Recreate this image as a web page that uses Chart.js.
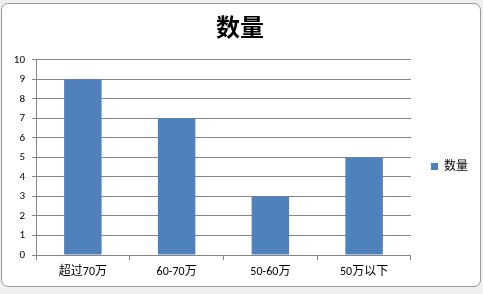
<!DOCTYPE html>
<html>
<head>
<meta charset="utf-8">
<script src="https://cdn.jsdelivr.net/npm/chart.js@4"></script>
<style>
  html, body { margin: 0; padding: 0; }
  body { width: 483px; height: 294px; background: #f0f0f0; position: relative; overflow: hidden; }
  /* 图表外框 */
  #frame {
    position: absolute; left: 1px; top: 3px; width: 478px; height: 282px;
    background: #fff; border: 1px solid #9a9a9a; border-radius: 7px;
  }
  #frame canvas { position: absolute; left: 0; top: 0; }
</style>
</head>
<body>
<div id="frame"><canvas id="chart" width="478" height="282"></canvas></div>
<script>
// 数据
const categories = ['超过70万', '60-70万', '50-60万', '50万以下'];
const counts = [9, 7, 3, 5];
const seriesName = '数量';
const yTicks = [0, 1, 2, 3, 4, 5, 6, 7, 8, 9, 10];

const FONT = 'Calibri, Carlito, "Liberation Sans", "Noto Sans CJK SC", sans-serif';
const GRID = '#868686';

const ctx = document.getElementById('chart').getContext('2d');
new Chart(ctx, {
  type: 'bar',
  data: {
    labels: categories,
    datasets: [{
      label: seriesName,
      data: counts,
      backgroundColor: '#4f81bd',
      borderWidth: 0,
      barPercentage: 1,
      categoryPercentage: 0.4
    }]
  },
  options: {
    responsive: false,
    animation: false,
    layout: { padding: { left: 0, right: 2, top: 0, bottom: 0 } },
    plugins: {
      title: {
        display: true,
        text: seriesName,
        color: '#000',
        font: { family: '"Noto Sans CJK SC", sans-serif', size: 24, weight: 'bold' },
        padding: { top: 8, bottom: 19 }
      },
      legend: {
        position: 'right',
        fullSize: false,
        labels: {
          color: '#000',
          boxWidth: 7,
          boxHeight: 7,
          padding: 20,
          font: { family: FONT, size: 12 }
        },
        title: { display: true, text: ' ', font: { size: 1 }, padding: { top: 17, bottom: 0 } }
      },
      tooltip: { enabled: false }
    },
    scales: {
      x: {
        offset: true,
        afterFit: (scale) => { scale.height = 31; },
        grid: {
          offset: true,
          drawOnChartArea: false,
          drawTicks: true,
          tickLength: 5,
          color: GRID
        },
        border: { display: true, color: GRID },
        ticks: { color: '#000', padding: 5, font: { family: FONT, size: 12 } }
      },
      y: {
        min: 0,
        max: 10,
        afterFit: (scale) => { scale.width = 34; },
        afterBuildTicks: (scale) => { scale.ticks = yTicks.map(v => ({ value: v })); },
        grid: { color: GRID, tickLength: 4 },
        border: { display: true, color: GRID },
        ticks: { color: '#000', padding: 7, font: { family: FONT, size: 11 } }
      }
    }
  }
});
</script>
</body>
</html>
